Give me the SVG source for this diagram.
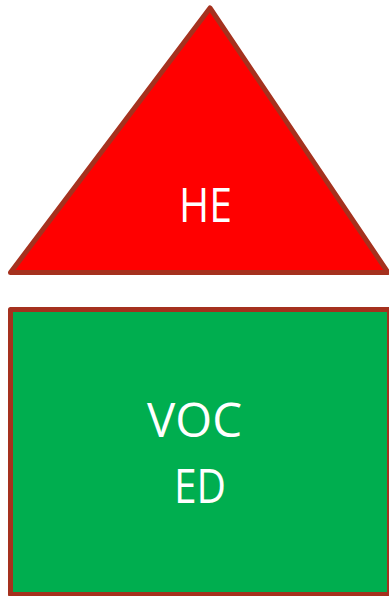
<svg xmlns="http://www.w3.org/2000/svg" width="389" height="596" viewBox="0 0 389 596">
<style>
.shape{stroke:#A5311E;stroke-width:5;stroke-linejoin:round}
.lbl{fill:#FFFFFF;font-family:"Open Sans","Liberation Sans",sans-serif;font-size:47px}
</style>
<rect width="389" height="596" fill="#FFFFFF"/>
<g id="he">
<polygon class="shape" points="10.5,272.5 210,8 388,272.5" fill="#FF0000"/>
<text class="lbl" x="179" y="222" textLength="53" lengthAdjust="spacingAndGlyphs">HE</text>
</g>
<g id="voced">
<rect class="shape" x="10.5" y="309.5" width="379" height="285" fill="#00AE4F"/>
<text class="lbl" x="147" y="437" textLength="95" lengthAdjust="spacingAndGlyphs">VOC</text>
<text class="lbl" x="174" y="503" textLength="52" lengthAdjust="spacingAndGlyphs">ED</text>
</g>
<g id="connectors"/>
</svg>
